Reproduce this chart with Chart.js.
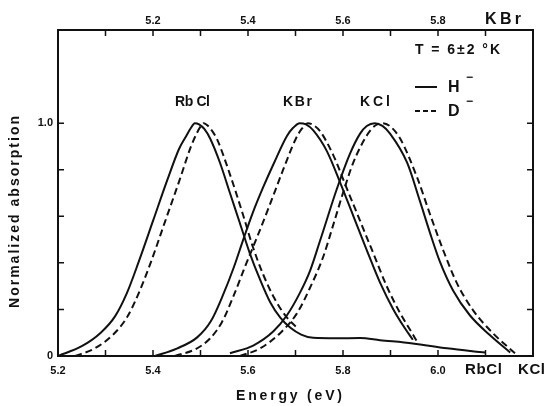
<!DOCTYPE html>
<html>
<head>
<meta charset="utf-8">
<script src="https://cdn.jsdelivr.net/npm/chart.js@4/dist/chart.umd.min.js"></script>
<style>
  html, body { margin: 0; padding: 0; background: #fff; }
  #wrap { width: 545px; height: 406px; }
</style>
</head>
<body>
<div id="wrap"><canvas id="chart" width="545" height="406"></canvas></div>
<script>
// energies in eV (bottom scale for RbCl / KCl, top scale for KBr), absorption normalised to 1
const rbclHEnergy = [5.200, 5.250, 5.290, 5.320, 5.345, 5.370, 5.400, 5.430, 5.455, 5.470, 5.480, 5.488, 5.497, 5.508, 5.520, 5.541, 5.562, 5.583, 5.604, 5.625, 5.647, 5.668, 5.690, 5.712, 5.737, 5.787, 5.836, 5.878, 5.947, 6.019, 6.099];
const rbclHAbs    = [0.000, 0.042, 0.100, 0.170, 0.270, 0.405, 0.580, 0.755, 0.890, 0.945, 0.980, 1.000, 0.995, 0.975, 0.935, 0.830, 0.700, 0.570, 0.440, 0.330, 0.230, 0.165, 0.120, 0.092, 0.078, 0.076, 0.077, 0.068, 0.054, 0.033, 0.015];

const rbclDEnergy = [5.236, 5.275, 5.315, 5.345, 5.370, 5.395, 5.425, 5.455, 5.480, 5.493, 5.500, 5.507, 5.515, 5.525, 5.535, 5.562, 5.589, 5.610, 5.632, 5.655, 5.680, 5.705];
const rbclDAbs    = [0.000, 0.030, 0.090, 0.165, 0.270, 0.400, 0.575, 0.750, 0.900, 0.960, 0.985, 1.000, 0.990, 0.965, 0.930, 0.780, 0.610, 0.470, 0.350, 0.250, 0.170, 0.118];

const kbrHEnergy = [5.204, 5.250, 5.293, 5.322, 5.347, 5.370, 5.390, 5.410, 5.432, 5.455, 5.482, 5.495, 5.509, 5.522, 5.537, 5.566, 5.594, 5.622, 5.650, 5.678, 5.706, 5.730, 5.747];
const kbrHAbs    = [0.000, 0.032, 0.080, 0.150, 0.260, 0.380, 0.500, 0.615, 0.725, 0.830, 0.945, 0.980, 1.000, 0.995, 0.970, 0.880, 0.745, 0.600, 0.455, 0.315, 0.200, 0.120, 0.070];

const kbrDEnergy = [5.246, 5.290, 5.320, 5.345, 5.370, 5.395, 5.420, 5.446, 5.474, 5.500, 5.513, 5.526, 5.539, 5.552, 5.579, 5.608, 5.636, 5.664, 5.692, 5.720, 5.745, 5.755];
const kbrDAbs    = [0.000, 0.030, 0.075, 0.145, 0.260, 0.390, 0.515, 0.650, 0.800, 0.930, 0.975, 1.000, 0.990, 0.965, 0.865, 0.720, 0.580, 0.440, 0.300, 0.185, 0.100, 0.065];

const kclHEnergy = [5.562, 5.611, 5.653, 5.682, 5.709, 5.731, 5.752, 5.787, 5.815, 5.836, 5.850, 5.867, 5.883, 5.899, 5.935, 5.962, 5.983, 6.004, 6.032, 6.067, 6.109, 6.152];
const kclHAbs    = [0.012, 0.045, 0.105, 0.175, 0.270, 0.368, 0.497, 0.717, 0.870, 0.955, 0.988, 1.000, 0.988, 0.955, 0.830, 0.665, 0.530, 0.405, 0.280, 0.175, 0.090, 0.015];

const kclDEnergy = [5.583, 5.625, 5.667, 5.703, 5.731, 5.758, 5.779, 5.800, 5.821, 5.851, 5.868, 5.884, 5.900, 5.920, 5.956, 5.983, 6.011, 6.040, 6.074, 6.116, 6.162];
const kclDAbs    = [0.000, 0.032, 0.097, 0.183, 0.295, 0.424, 0.560, 0.700, 0.827, 0.950, 0.990, 1.000, 0.985, 0.935, 0.767, 0.610, 0.454, 0.312, 0.196, 0.097, 0.012];

const bottomTickLabels = ['5.2', '5.4', '5.6', '5.8', '6.0'];
const topTickLabels = ['5.2', '5.4', '5.6', '5.8'];
const yTickLabels = ['0', '1.0'];

const ink = '#111';
const face = '"Liberation Sans", Arial, sans-serif';

function pts(xs, ys) {
  return xs.map((x, i) => ({x: x, y: ys[i]}));
}

function curve(xs, ys, dashed, xAxis) {
  return {
    data: pts(xs, ys),
    xAxisID: xAxis,
    yAxisID: 'y',
    borderColor: ink,
    borderWidth: 2,
    borderDash: dashed ? [7, 4] : [],
    pointRadius: 0,
    cubicInterpolationMode: 'monotone',
    fill: false
  };
}

// draw text stretched to a given width (the original lettering is widely spaced)
function fitText(ctx, s, x, y, width, size) {
  ctx.font = 'bold ' + size + 'px ' + face;
  ctx.letterSpacing = '0px';
  const w = ctx.measureText(s).width;
  const gap = s.length > 1 ? (width - w) / (s.length - 1) : 0;
  ctx.letterSpacing = gap + 'px';
  ctx.textAlign = 'left';
  ctx.textBaseline = 'middle';
  ctx.fillText(s, x, y);
  ctx.letterSpacing = '0px';
}

const innerTicks = {
  id: 'innerTicks',
  afterDatasetsDraw(chart) {
    const ctx = chart.ctx;
    const a = chart.chartArea;
    const sx = chart.scales.x, sx2 = chart.scales.x2, sy = chart.scales.y;
    ctx.save();
    ctx.strokeStyle = ink;
    ctx.lineWidth = 1.5;
    ctx.beginPath();
    sx.ticks.forEach(t => {
      const p = sx.getPixelForValue(t.value);
      ctx.moveTo(p, a.bottom); ctx.lineTo(p, a.bottom - 6);
    });
    sx2.ticks.forEach(t => {
      const p = sx2.getPixelForValue(t.value);
      ctx.moveTo(p, a.top); ctx.lineTo(p, a.top + 6);
    });
    sy.ticks.forEach(t => {
      if (t.value > 1.0001) return;
      const p = sy.getPixelForValue(t.value);
      ctx.moveTo(a.left, p); ctx.lineTo(a.left + 6, p);
      ctx.moveTo(a.right, p); ctx.lineTo(a.right - 6, p);
    });
    ctx.stroke();
    ctx.restore();
  }
};

const labels = {
  id: 'labels',
  afterDraw(chart) {
    const ctx = chart.ctx;
    ctx.save();
    ctx.fillStyle = ink;
    ctx.strokeStyle = ink;

    // band names
    fitText(ctx, 'Rb Cl', 175, 102, 35, 14);
    fitText(ctx, 'KBr', 283, 102, 29, 14);
    fitText(ctx, 'KCl', 360, 102, 30, 14);

    // temperature and legend
    fitText(ctx, 'T = 6±2 °K', 415, 50, 85, 14);
    ctx.lineWidth = 2;
    ctx.beginPath();
    ctx.moveTo(415, 87); ctx.lineTo(437, 87);
    ctx.stroke();
    ctx.setLineDash([5, 3]);
    ctx.beginPath();
    ctx.moveTo(415, 111); ctx.lineTo(439, 111);
    ctx.stroke();
    ctx.setLineDash([]);
    fitText(ctx, 'H', 448, 88, 0, 16);
    fitText(ctx, 'D', 448, 112, 0, 16);
    fitText(ctx, '−', 466, 78, 0, 12);
    fitText(ctx, '−', 466, 102, 0, 12);

    // axis scale names
    fitText(ctx, 'KBr', 485, 20, 36, 16);
    fitText(ctx, 'RbCl', 465, 370, 37, 15);
    fitText(ctx, 'KCl', 518, 370, 27, 15);

    // axis titles
    fitText(ctx, 'Energy (eV)', 236, 396, 106, 14);
    ctx.translate(15, 212);
    ctx.rotate(-Math.PI / 2);
    fitText(ctx, 'Normalized absorption', -96, 0, 192, 14);
    ctx.restore();
  }
};

new Chart('chart', {
  type: 'line',
  data: {
    datasets: [
      curve(rbclHEnergy, rbclHAbs, false, 'x'),
      curve(rbclDEnergy, rbclDAbs, true, 'x'),
      curve(kbrHEnergy, kbrHAbs, false, 'x2'),
      curve(kbrDEnergy, kbrDAbs, true, 'x2'),
      curve(kclHEnergy, kclHAbs, false, 'x'),
      curve(kclDEnergy, kclDAbs, true, 'x')
    ]
  },
  options: {
    responsive: false,
    animation: false,
    devicePixelRatio: 1,
    layout: {padding: 0},
    plugins: {
      legend: {display: false},
      tooltip: {enabled: false}
    },
    scales: {
      x: {
        type: 'linear',
        position: 'bottom',
        min: 5.2,
        max: 6.2,
        afterFit: s => { s.height = 50; },
        grid: {display: false, drawTicks: false},
        border: {display: true, color: ink, width: 2},
        ticks: {
          stepSize: 0.1,
          autoSkip: false,
          maxRotation: 0,
          padding: 8,
          color: ink,
          font: {family: face, size: 11, weight: 'bold'},
          callback: v => {
            const s = Number(v).toFixed(1);
            return bottomTickLabels.includes(s) ? s : '';
          }
        }
      },
      x2: {
        type: 'linear',
        position: 'top',
        min: 5.0,
        max: 6.0,
        afterFit: s => { s.height = 30; },
        grid: {display: false, drawTicks: false},
        border: {display: true, color: ink, width: 2},
        ticks: {
          stepSize: 0.1,
          autoSkip: false,
          maxRotation: 0,
          padding: 2,
          color: ink,
          font: {family: face, size: 11, weight: 'bold'},
          callback: v => {
            const s = Number(v).toFixed(1);
            return topTickLabels.includes(s) ? s : '';
          }
        }
      },
      y: {
        type: 'linear',
        position: 'left',
        min: 0,
        max: 1.4,
        afterFit: s => { s.width = 58; },
        grid: {display: false, drawTicks: false},
        border: {display: true, color: ink, width: 2},
        ticks: {
          stepSize: 0.2,
          autoSkip: false,
          padding: 5,
          color: ink,
          font: {family: face, size: 11, weight: 'bold'},
          callback: v => {
            const s = v === 0 ? '0' : Number(v).toFixed(1);
            return yTickLabels.includes(s) ? s : '';
          }
        }
      },
      y2: {
        type: 'linear',
        position: 'right',
        min: 0,
        max: 1.4,
        afterFit: s => { s.width = 12; },
        grid: {display: false, drawTicks: false},
        border: {display: true, color: ink, width: 2},
        ticks: {display: false}
      }
    }
  },
  plugins: [innerTicks, labels]
});
</script>
</body>
</html>
